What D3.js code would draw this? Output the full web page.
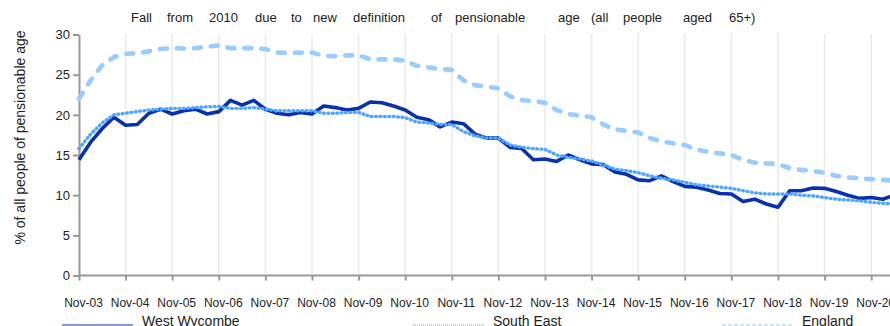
<!DOCTYPE html>
<html>
<head>
<meta charset="utf-8">
<script src="https://cdn.jsdelivr.net/npm/d3@7"></script>
<style>
  html, body { margin: 0; padding: 0; background: #fff; }
  svg { display: block; font-family: "Liberation Sans", Arial, Helvetica, sans-serif; }
</style>
</head>
<body>
<svg id="chart" width="890" height="326"></svg>
<script>
// Quarterly share of people of pensionable age, starting Nov-03 (one value per quarter)
const westWycombe = [
  14.4, 16.6, 18.3, 19.7, 18.7, 18.8, 20.2, 20.7, 20.1, 20.5, 20.7, 20.1,
  20.4, 21.8, 21.2, 21.8, 20.7, 20.2, 20.0, 20.3, 20.1, 21.1, 20.9, 20.6,
  20.8, 21.6, 21.5, 21.1, 20.6, 19.7, 19.4, 18.5, 19.1, 18.9, 17.6, 17.1,
  17.1, 15.95, 15.8, 14.4, 14.5, 14.2, 15.0, 14.4, 13.9, 13.8, 12.9, 12.6,
  11.9, 11.8, 12.4, 11.7, 11.1, 11.0, 10.65, 10.2, 10.15, 9.2, 9.5, 8.9,
  8.5, 10.55, 10.55, 10.9, 10.85, 10.45, 10.0, 9.6, 9.7, 9.5, 10.0
];
const southEast = [
  15.8, 17.6, 19.0, 20.0, 20.2, 20.4, 20.6, 20.7, 20.8, 20.8, 20.9, 21.0,
  21.05, 20.8, 20.8, 20.9, 20.7, 20.5, 20.5, 20.5, 20.5, 20.2, 20.2, 20.3,
  20.3, 19.8, 19.8, 19.8, 19.65, 19.1, 19.0, 18.8, 18.8, 17.9, 17.4, 17.1,
  17.1, 16.25, 15.95, 15.8, 15.7, 15.0, 14.7, 14.5, 14.25, 13.75, 13.25, 13.05,
  12.8, 12.4, 12.1, 11.9, 11.6, 11.3, 11.15, 11.0, 10.85, 10.55, 10.3, 10.15,
  10.15, 10.15, 10.0, 9.9, 9.7, 9.5, 9.4, 9.3, 9.1, 9.0, 8.9
];
const england = [
  22.0, 24.3, 26.2, 27.2, 27.6, 27.65, 27.9, 28.2, 28.3, 28.25, 28.3, 28.5,
  28.65, 28.3, 28.3, 28.3, 28.2, 27.75, 27.7, 27.75, 27.75, 27.35, 27.3, 27.4,
  27.45, 26.9, 26.9, 26.9, 26.75, 26.1, 25.9, 25.7, 25.6, 24.3, 23.7, 23.5,
  23.3, 22.3, 21.85, 21.7, 21.5, 20.6, 20.1, 19.9, 19.7, 18.8, 18.2, 18.0,
  17.8, 17.1, 16.7, 16.45, 16.25, 15.65, 15.4, 15.2, 15.0, 14.4, 14.05, 13.95,
  13.9, 13.35, 13.15, 13.0, 12.8, 12.4, 12.2, 12.1, 12.0, 11.9, 11.8
];
const seriesNames = ["West Wycombe", "South East", "England"];
const xTickLabels = [
  "Nov-03", "Nov-04", "Nov-05", "Nov-06", "Nov-07", "Nov-08", "Nov-09", "Nov-10", "Nov-11",
  "Nov-12", "Nov-13", "Nov-14", "Nov-15", "Nov-16", "Nov-17", "Nov-18", "Nov-19", "Nov-20"
];
const yTickValues = [0, 5, 10, 15, 20, 25, 30];
const titleText = "Fall from 2010 due to new definition of pensionable age (all people aged 65+)";
const yAxisTitle = "% of all people of pensionable age";

const svg = d3.select("#chart");
const W = 890, H = 326;
const plotLeft = 79, plotBottom = 275.5, plotTop = 34.5;

// x: quarters since Nov-03; one labelled tick per year (every 4 quarters)
const x = d3.scaleLinear().domain([0, 68]).range([plotLeft, 871.2]);
const y = d3.scaleLinear().domain([0, 30]).range([plotBottom, plotTop]);
const yearTicks = xTickLabels.map((_, i) => i * 4);

// vertical gridlines at each yearly tick
svg.append("g")
  .selectAll("line")
  .data(yearTicks.filter(t => t > 0))
  .join("line")
  .attr("x1", d => x(d)).attr("x2", d => x(d))
  .attr("y1", plotTop - 1).attr("y2", plotBottom)
  .attr("stroke", "#ebebeb")
  .attr("stroke-width", 1.5);

// x axis
const xAxis = d3.axisBottom(x)
  .tickValues(yearTicks)
  .tickFormat((d, i) => xTickLabels[i])
  .tickSize(5)
  .tickSizeOuter(0)
  .tickPadding(18);
const gx = svg.append("g")
  .attr("transform", `translate(0,${plotBottom})`)
  .call(xAxis);
gx.select(".domain").attr("d", `M${plotLeft},0H${W + 10}`);
gx.selectAll(".domain, .tick line").attr("stroke", "#999").attr("stroke-width", 2);
gx.selectAll(".tick text")
  .attr("font-size", 12)
  .attr("fill", "#222")
  .attr("dx", 4);

// y axis
const yAxis = d3.axisLeft(y)
  .tickValues(yTickValues)
  .tickSize(6)
  .tickSizeOuter(0)
  .tickPadding(3);
const gy = svg.append("g")
  .attr("transform", `translate(${plotLeft},0)`)
  .call(yAxis);
gy.selectAll(".domain, .tick line").attr("stroke", "#999").attr("stroke-width", 2);
gy.selectAll(".tick text").attr("font-size", 13).attr("fill", "#222");

// y axis title
svg.append("text")
  .attr("transform", "translate(20,137.5) rotate(-90)")
  .attr("text-anchor", "middle")
  .attr("dy", "0.35em")
  .attr("font-size", 14)
  .attr("fill", "#222")
  .text(yAxisTitle);

// title, words spread across the top
const titleWords = titleText.split(" ");
const titleWordX = [131, 167, 209, 255, 291, 313, 353, 431, 455, 558, 591, 623, 683, 729];
svg.append("text")
  .attr("y", 21.5)
  .attr("font-size", 13)
  .attr("fill", "#222")
  .selectAll("tspan")
  .data(titleWords)
  .join("tspan")
  .attr("x", (d, i) => titleWordX[i])
  .text(d => d);

// series lines
const styles = [
  { color: "#0a31ad", width: 3.6, dash: null },
  { color: "#4da6ff", width: 3.4, dash: "0.8,3.6" },
  { color: "#99ccff", width: 4.6, dash: "7,10" }
];
const seriesData = [westWycombe, southEast, england];
const line = d3.line().x((d, i) => x(i)).y(d => y(d));

const plot = svg.append("g");
seriesData.forEach((values, k) => {
  plot.append("path")
    .datum(values)
    .attr("d", line)
    .attr("fill", "none")
    .attr("stroke", styles[k].color)
    .attr("stroke-width", styles[k].width)
    .attr("stroke-linejoin", "round")
    .attr("stroke-linecap", styles[k].dash ? "round" : "butt")
    .attr("stroke-dasharray", styles[k].dash);
});

// legend along the bottom
const legendX = [62, 413, 722];
const legendY = 325;
const lg = svg.append("g");
seriesNames.forEach((name, k) => {
  const g = lg.append("g").attr("transform", `translate(${legendX[k]},${legendY})`);
  g.append("line")
    .attr("x1", 0).attr("x2", 71)
    .attr("stroke", styles[k].color)
    .attr("stroke-width", 1.2)
    .attr("stroke-dasharray", k === 0 ? null : (k === 1 ? "1,1" : "4,2"));
  g.append("text")
    .attr("x", 80)
    .attr("y", 0.5)
    .attr("font-size", 14)
    .attr("fill", "#222")
    .text(name);
});
</script>
</body>
</html>
